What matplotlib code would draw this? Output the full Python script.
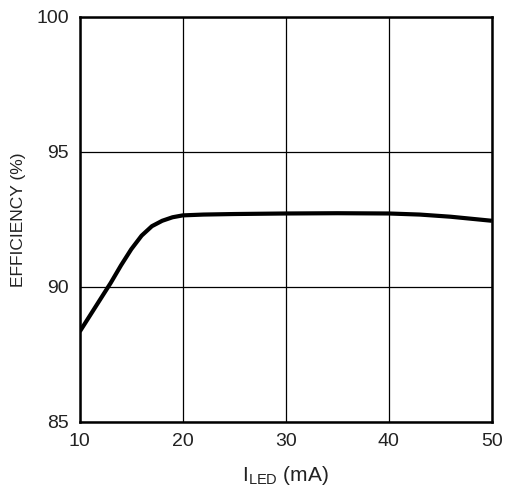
import matplotlib
matplotlib.use('Agg')
import matplotlib.pyplot as plt
from matplotlib import font_manager

# efficiency vs LED current
i_led = [10, 11, 12, 13, 14, 15, 16, 17, 18, 19, 20, 22, 25, 30, 35, 40, 43, 46, 50]
efficiency = [88.35, 88.95, 89.55, 90.15, 90.8, 91.4, 91.9, 92.25, 92.45, 92.58, 92.65,
              92.68, 92.7, 92.72, 92.73, 92.72, 92.68, 92.6, 92.45]

x_ticks = [10, 20, 30, 40, 50]
y_ticks = [85, 90, 95, 100]

names = {f.name for f in font_manager.fontManager.ttflist}
family = 'Liberation Sans Narrow' if 'Liberation Sans Narrow' in names else 'Liberation Sans'
plt.rcParams['font.family'] = [family, 'DejaVu Sans']
plt.rcParams['mathtext.fontset'] = 'custom'
plt.rcParams['mathtext.rm'] = family

fig = plt.figure(figsize=(5.15, 4.97), dpi=100)
ax = fig.add_axes([0.155, 0.151, 0.800, 0.815])

ax.plot(i_led, efficiency, color='black', linewidth=3, solid_capstyle='butt')

ax.set_xlim(10, 50)
ax.set_ylim(85, 100)
ax.set_xticks(x_ticks)
ax.set_yticks(y_ticks)
ax.grid(True, color='black', linewidth=0.9)
ax.tick_params(length=0, labelsize=14, colors='#222222', pad=8)
for s in ax.spines.values():
    s.set_linewidth(1.8)

ax.set_ylabel('EFFICIENCY (%)', fontsize=12.5, color='#222222')
ax.yaxis.set_label_coords(-0.13, 0.5)
ax.set_xlabel(r'I$_{\mathrm{LED}}$ (mA)', fontsize=15, color='#222222', labelpad=10)

fig.savefig('out.png', dpi=100)
